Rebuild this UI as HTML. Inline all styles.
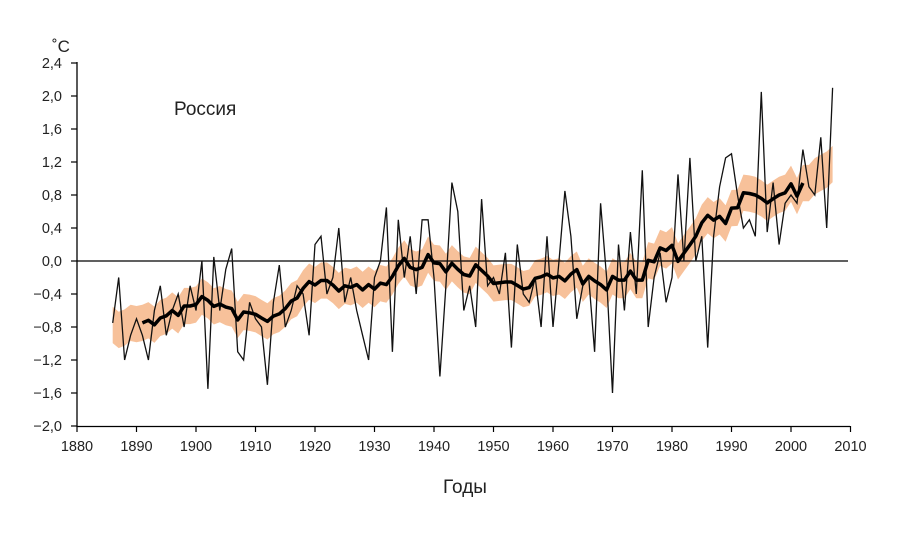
<!DOCTYPE html>
<html><head><meta charset="utf-8"><style>
html,body{margin:0;padding:0;background:#fff;}
svg text{font-family:"Liberation Sans",sans-serif;fill:#222;}
</style></head><body>
<svg id="s" width="907" height="537" viewBox="0 0 907 537" xmlns="http://www.w3.org/2000/svg">
<g id="band"></g>
<line x1="77" y1="261" x2="848" y2="261" stroke="#000" stroke-width="1.3"/>
<g id="thin"></g>
<g id="thick"></g>
<line x1="77" y1="62" x2="77" y2="427" stroke="#000" stroke-width="1.3"/>
<line x1="77" y1="426.5" x2="850" y2="426.5" stroke="#000" stroke-width="1.3"/>
<g id="ticks"></g>
<text x="52" y="52" font-size="17">˚C</text>
<text x="174" y="115" font-size="19">Россия</text>
<text x="465" y="493" font-size="19" text-anchor="middle">Годы</text>
</svg>
<script>
var d=[-0.75,-0.2,-1.2,-0.9,-0.7,-0.9,-1.2,-0.6,-0.3,-0.9,-0.6,-0.4,-0.8,-0.3,-0.6,0.0,-1.55,0.05,-0.6,-0.1,0.15,-1.1,-1.2,-0.5,-0.7,-0.8,-1.5,-0.5,-0.05,-0.8,-0.6,-0.3,-0.4,-0.9,0.2,0.3,-0.4,-0.2,0.4,-0.5,-0.2,-0.6,-0.9,-1.2,-0.2,0.0,0.65,-1.1,0.5,-0.2,0.3,-0.4,0.5,0.5,-0.2,-1.4,-0.3,0.95,0.6,-0.6,-0.3,-0.8,0.75,-0.3,-0.2,-0.4,0.1,-1.05,0.2,-0.4,-0.5,-0.2,-0.8,0.3,-0.8,0.0,0.85,0.3,-0.7,-0.3,-0.2,-1.1,0.7,-0.2,-1.6,0.2,-0.6,0.35,-0.4,1.1,-0.8,-0.2,0.1,-0.5,-0.2,1.05,0.0,1.25,0.0,0.3,-1.05,0.3,0.9,1.25,1.3,0.8,0.4,0.5,0.3,2.05,0.35,0.95,0.2,0.7,0.8,0.7,1.35,0.9,0.8,1.5,0.4,2.1];
var y0=1886;
function X(y){return 77+(y-1880)*5.95;}
function Y(v){return 261-v*82.5;}
var sm=[];
for(var i=0;i<d.length;i++){var s=0,n=0;for(var k=-5;k<=5;k++){var j=i+k;if(j>=0&&j<d.length){s+=d[j];n++;}}sm.push(s/n);}
var up=[],dn=[];
for(var i=0;i<d.length;i++){up.push(X(y0+i).toFixed(1)+","+Y(sm[i]+0.22).toFixed(1));dn.unshift(X(y0+i).toFixed(1)+","+Y(sm[i]-0.22).toFixed(1));}
var ns="http://www.w3.org/2000/svg";
function el(t,a,p){var e=document.createElementNS(ns,t);for(var k in a)e.setAttribute(k,a[k]);document.getElementById(p).appendChild(e);return e;}
el("polygon",{points:up.concat(dn).join(" "),fill:"#f7c19a"},"band");
el("polyline",{points:d.map(function(v,i){return X(y0+i).toFixed(1)+","+Y(v).toFixed(1)}).join(" "),fill:"none",stroke:"#111","stroke-width":"1.3"},"thin");
var tp=[];for(var i=5;i<=116;i++)tp.push(X(y0+i).toFixed(1)+","+Y(sm[i]).toFixed(1));
el("polyline",{points:tp.join(" "),fill:"none",stroke:"#000","stroke-width":"3.5","stroke-linejoin":"round"},"thick");
for(var v=-2.0;v<=2.41;v+=0.4){var yy=Y(v);el("line",{x1:71,y1:yy,x2:77,y2:yy,stroke:"#000","stroke-width":"1.2"},"ticks");
var t=el("text",{x:62,y:yy+5,"font-size":"14.5","text-anchor":"end"},"ticks");var s=Math.abs(v)<0.01?"0,0":(v<0?"\u2212":"")+Math.abs(v).toFixed(1).replace(".",",");t.textContent=s;}
for(var yr=1880;yr<=2010;yr+=10){var xx=X(yr);el("line",{x1:xx,y1:426,x2:xx,y2:432,stroke:"#000","stroke-width":"1.2"},"ticks");
var t=el("text",{x:xx,y:451,"font-size":"14.5","text-anchor":"middle"},"ticks");t.textContent=yr;}
</script>
</body></html>
